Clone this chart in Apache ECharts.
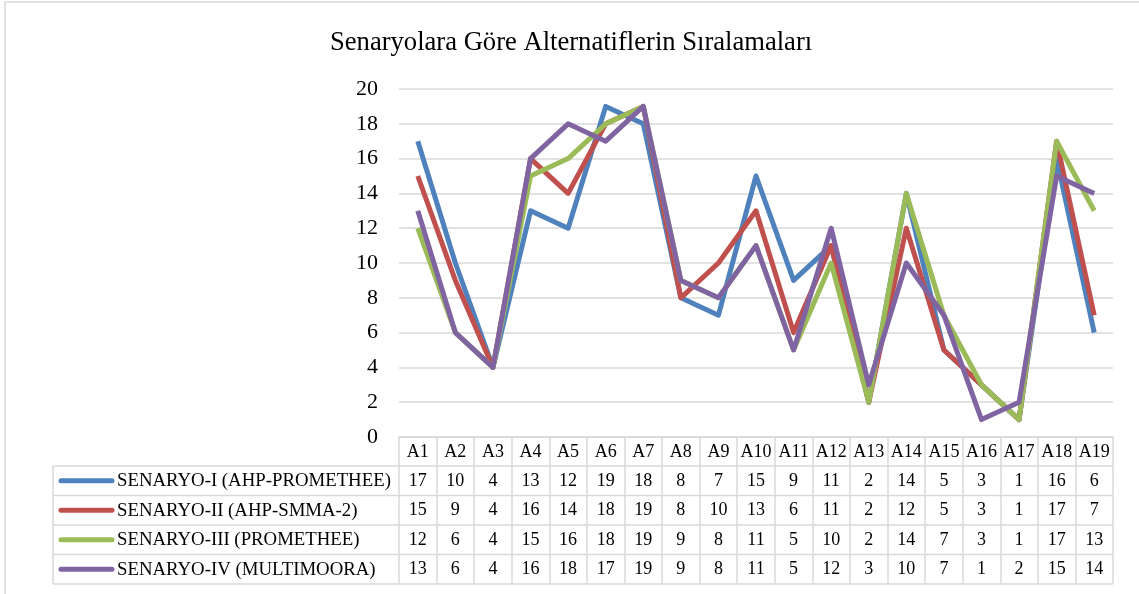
<!DOCTYPE html>
<html>
<head>
<meta charset="utf-8">
<script src="https://cdn.jsdelivr.net/npm/echarts@6/dist/echarts.min.js"></script>
<style>html,body{margin:0;padding:0;background:#fff}#c{width:1139px;height:594px}</style>
</head>
<body>
<div id="c"></div>
<script>
var title = 'Senaryolara Göre Alternatiflerin Sıralamaları';
var categories = ['A1','A2','A3','A4','A5','A6','A7','A8','A9','A10','A11','A12','A13','A14','A15','A16','A17','A18','A19'];
var seriesNames = ['SENARYO-I (AHP-PROMETHEE)','SENARYO-II (AHP-SMMA-2)','SENARYO-III (PROMETHEE)','SENARYO-IV (MULTIMOORA)'];
var s1 = [17,10,4,13,12,19,18,8,7,15,9,11,2,14,5,3,1,16,6];
var s2 = [15,9,4,16,14,18,19,8,10,13,6,11,2,12,5,3,1,17,7];
var s3 = [12,6,4,15,16,18,19,9,8,11,5,10,2,14,7,3,1,17,13];
var s4 = [13,6,4,16,18,17,19,9,8,11,5,12,3,10,7,1,2,15,14];
var yTicks = [0,2,4,6,8,10,12,14,16,18,20];

var colors = ['#4f81bd','#c0504d','#9bbb59','#8064a2'];
var allSeries = [s1,s2,s3,s4];
var FONT = "'Liberation Serif','Times New Roman',serif";
var W = 1139, H = 594;
var gLeft = 399, gRight = 1113, gTop = 89, gBottom = 437;
var headerH = 29, rowH = 29.5;
var tableLeft = 53;
var lineColor = '#d9d9d9';
var tableFont = 18;

var xAxes = [{
  type: 'category', data: categories, gridIndex: 0, position: 'bottom',
  boundaryGap: true,
  axisLine: {show: true, lineStyle: {color: lineColor, width: 1.5}},
  axisTick: {show: true, interval: 0, length: headerH + rowH * 4, lineStyle: {color: lineColor, width: 1.5}},
  axisLabel: {interval: 0, margin: headerH / 2 + 0.5, verticalAlign: 'middle', fontFamily: FONT, fontSize: tableFont, color: '#000'},
  splitLine: {show: false}
}];
allSeries.forEach(function (arr, i) {
  xAxes.push({
    type: 'category', data: categories, gridIndex: 0, position: 'bottom',
    boundaryGap: true,
    axisLine: {show: false}, axisTick: {show: false}, splitLine: {show: false},
    axisLabel: {
      interval: 0, margin: headerH + rowH * i + rowH / 2 + 0.5, verticalAlign: 'middle',
      fontFamily: FONT, fontSize: tableFont, color: '#000',
      formatter: function (v, idx) { return String(arr[idx]); }
    }
  });
});

var graphics = [];
for (var r = 0; r <= 4; r++) {
  var yy = gBottom + headerH + rowH * r;
  graphics.push({type: 'line', shape: {x1: tableLeft, y1: yy, x2: gRight, y2: yy}, style: {stroke: lineColor, lineWidth: 1.5}, silent: true});
}
graphics.push({type: 'line', shape: {x1: tableLeft, y1: gBottom + headerH, x2: tableLeft, y2: gBottom + headerH + rowH * 4}, style: {stroke: lineColor, lineWidth: 1.5}, silent: true});
seriesNames.forEach(function (n, i) {
  var cy = gBottom + headerH + rowH * i + rowH / 2;
  graphics.push({type: 'line', shape: {x1: 61, y1: cy, x2: 112, y2: cy}, style: {stroke: colors[i], lineWidth: 5, lineCap: 'round'}, silent: true});
  graphics.push({type: 'text', x: 117, y: cy + 0.5, style: {text: n, font: '18.8px ' + FONT, fill: '#000', verticalAlign: 'middle'}, silent: true});
});
graphics.push({type: 'rect', shape: {x: 5, y: 2, width: W, height: H}, style: {fill: 'none', stroke: lineColor, lineWidth: 1.5}, silent: true, z: -1});

var chart = echarts.init(document.getElementById('c'), null, {renderer: 'canvas'});
chart.setOption({
  animation: false,
  backgroundColor: '#fff',
  title: {text: title, left: 325, top: 25, textStyle: {fontFamily: FONT, fontSize: 26.6, fontWeight: 'normal', color: '#000'}},
  grid: {left: gLeft, right: W - gRight, top: gTop, bottom: H - gBottom, containLabel: false},
  xAxis: xAxes,
  yAxis: {
    type: 'value', min: yTicks[0], max: yTicks[yTicks.length - 1], interval: yTicks[1] - yTicks[0],
    axisLine: {show: false}, axisTick: {show: false},
    axisLabel: {fontFamily: FONT, fontSize: 22, color: '#000', margin: 21},
    splitLine: {show: true, lineStyle: {color: lineColor, width: 1.5}}
  },
  series: allSeries.map(function (arr, i) {
    return {name: seriesNames[i], type: 'line', data: arr, xAxisIndex: 0, symbol: 'none', lineStyle: {color: colors[i], width: 5, join: 'round'}, itemStyle: {color: colors[i]}};
  }),
  graphic: graphics
});
</script>
</body>
</html>
